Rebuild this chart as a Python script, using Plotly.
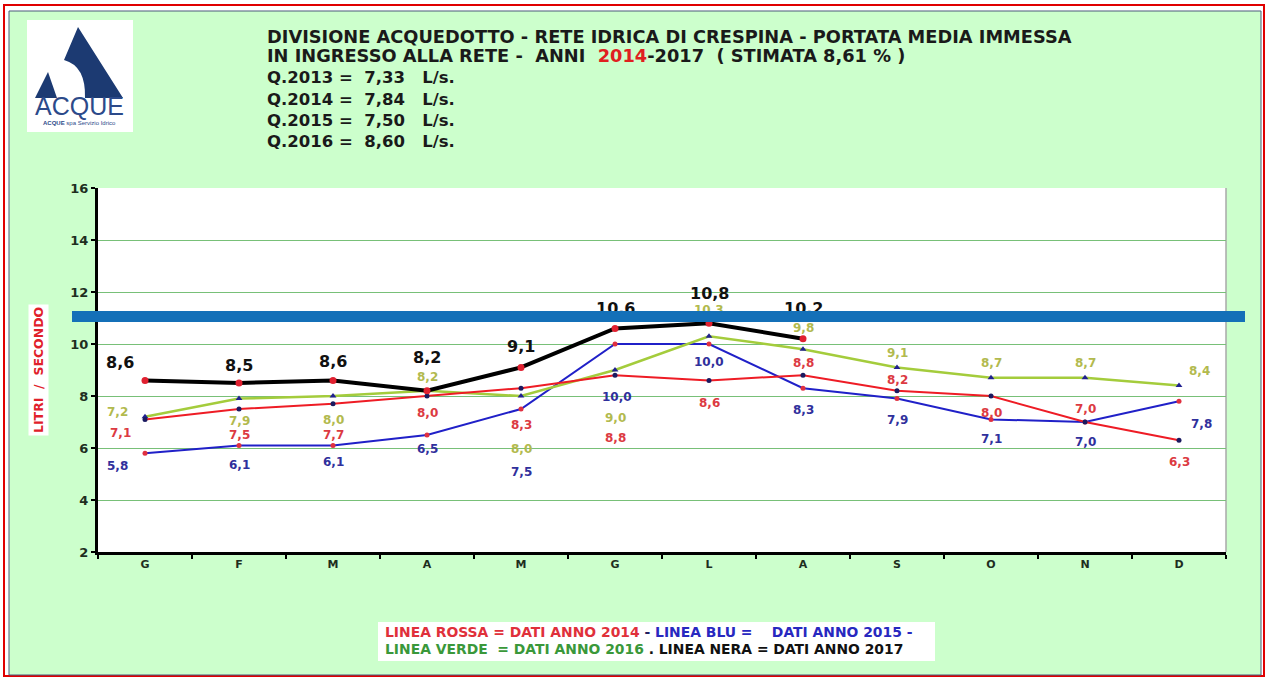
import plotly.graph_objects as go

# ---------------- data ----------------
months = ["G", "F", "M", "A", "M", "G", "L", "A", "S", "O", "N", "D"]
y2014 = [7.1, 7.5, 7.7, 8.0, 8.3, 8.8, 8.6, 8.8, 8.2, 8.0, 7.0, 6.3]
y2015 = [5.8, 6.1, 6.1, 6.5, 7.5, 10.0, 10.0, 8.3, 7.9, 7.1, 7.0, 7.8]
y2016 = [7.2, 7.9, 8.0, 8.2, 8.0, 9.0, 10.3, 9.8, 9.1, 8.7, 8.7, 8.4]
y2017 = [8.6, 8.5, 8.6, 8.2, 9.1, 10.6, 10.8, 10.2]
q_years = ["Q.2013", "Q.2014", "Q.2015", "Q.2016"]
q_values = ["7,33", "7,84", "7,50", "8,60"]
stimata = "8,61 %"
y_tick_vals = [2, 4, 6, 8, 10, 12, 14, 16]
bar_level = 11.05  # blue horizontal band drawn on the chart

# ---------------- styles ----------------
W, H = 1270, 677
L, R, T, B = 98, 44, 188, 125
PW, PH = W - L - R, H - T - B
FONT = "DejaVu Sans"
NB = "\u00a0"


def px(xp):
    return (xp - L) / PW


def py(yp):
    return (H - B - yp) / PH


# label offsets (xshift, yshift) in pixels
off2014 = [(-25, -14), (0, -26), (0, -31), (0, -17), (0, -37), (0, -63),
           (0, -23), (0, 12), (0, 11), (0, -17), (0, 13), (0, -22)]
off2015 = [(-28, -13), (0, -20), (0, -17), (0, -14), (0, -63), (2, -53),
           (0, -18), (0, -22), (0, -21), (0, -20), (0, -20), (22, -23)]
off2016 = [(-28, 5), (0, -22), (0, -24), (0, 14), (0, -53), (0, -48),
           (0, 26), (0, 21), (0, 14), (0, 15), (0, 15), (20, 15)]
off2017 = [(-25, 18), (0, 18), (0, 19), (0, 33), (0, 21), (0, 20),
           (0, 30), (0, 30)]

xs = list(range(len(months)))

fig = go.Figure()

fig.add_trace(go.Scatter(x=xs, y=y2015, mode="lines+markers",
                         line=dict(color="#2020C8", width=2),
                         marker=dict(color="#E03040", size=5), name="2015"))
fig.add_trace(go.Scatter(x=xs, y=y2016, mode="lines+markers",
                         line=dict(color="#A4CC3C", width=2.5),
                         marker=dict(color="#202090", size=6, symbol="triangle-up"), name="2016"))
fig.add_trace(go.Scatter(x=xs, y=y2014, mode="lines+markers",
                         line=dict(color="#EE1C25", width=2),
                         marker=dict(color="#1A1A60", size=5), name="2014"))
fig.add_trace(go.Scatter(x=xs[:len(y2017)], y=y2017, mode="lines+markers",
                         line=dict(color="#000000", width=4),
                         marker=dict(color="#E02030", size=7), name="2017"))

annotations = []


def fmt(v):
    return f"{v:.1f}".replace(".", ",")


def add_labels(vals, offs, color, size):
    for i, (v, (dx, dy)) in enumerate(zip(vals, offs)):
        annotations.append(dict(x=xs[i], y=v, xref="x", yref="y", text=fmt(v),
                                showarrow=False, xshift=dx, yshift=dy,
                                xanchor="center", yanchor="middle",
                                font=dict(family=FONT, size=size, color=color, weight="bold")))


add_labels(y2014, off2014, "#DC3A42", 12)
add_labels(y2015, off2015, "#30309C", 12)
add_labels(y2016, off2016, "#B2BA4E", 12)
add_labels(y2017, off2017, "#111111", 16)

# title block
TF = dict(family=FONT, size=17.8, color="#1A1A1A", weight="bold")
QF = dict(family=FONT, size=16.5, color="#1A1A1A", weight="bold")
title1 = "DIVISIONE ACQUEDOTTO - RETE IDRICA DI CRESPINA - PORTATA MEDIA IMMESSA"
title2 = ("IN INGRESSO ALLA RETE -" + NB * 2 + "ANNI" + NB * 2 +
          "<span style='color:#E02020'>2014</span>-2017" + NB * 2 + "( STIMATA " + stimata + " )")
annotations.append(dict(x=px(265), y=py(37), xref="paper", yref="paper", text=title1,
                        showarrow=False, xanchor="left", yanchor="middle", font=TF))
annotations.append(dict(x=px(265), y=py(55), xref="paper", yref="paper", text=title2,
                        showarrow=False, xanchor="left", yanchor="middle", font=TF))
q_y = [78, 99, 120, 141]
for lab, val, yy in zip(q_years, q_values, q_y):
    txt = lab + " =" + NB * 2 + val + NB * 3 + "L/s."
    annotations.append(dict(x=px(265), y=py(yy), xref="paper", yref="paper", text=txt,
                            showarrow=False, xanchor="left", yanchor="middle", font=QF))

# y axis title
annotations.append(dict(x=px(38), y=py(370), xref="paper", yref="paper",
                        text="LITRI" + NB * 2 + "/" + NB * 2 + "SECONDO", textangle=-90,
                        showarrow=False, bgcolor="#FFFFFF", borderpad=2,
                        xanchor="center", yanchor="middle",
                        font=dict(family=FONT, size=12.5, color="#E0202A", weight="bold")))

# bottom legend text
leg1 = ("<span style='color:#E0303A'>LINEA ROSSA = DATI ANNO 2014</span>"
        "<span style='color:#202060'> - </span>"
        "<span style='color:#2828C0'>LINEA BLU =" + NB * 4 + "DATI ANNO 2015 -</span>")
leg2 = ("<span style='color:#3A983A'>LINEA VERDE" + NB * 2 + "= DATI ANNO 2016</span>"
        "<span style='color:#111111'> . LINEA NERA = DATI ANNO 2017</span>")
LF = dict(family=FONT, size=13.9, weight="bold")
annotations.append(dict(x=px(383), y=py(632), xref="paper", yref="paper", text=leg1,
                        showarrow=False, xanchor="left", yanchor="middle", font=LF))
annotations.append(dict(x=px(383), y=py(649), xref="paper", yref="paper", text=leg2,
                        showarrow=False, xanchor="left", yanchor="middle", font=LF))

# logo text
annotations.append(dict(x=px(79), y=py(106), xref="paper", yref="paper", text="ACQUE",
                        showarrow=False, xanchor="center", yanchor="middle",
                        font=dict(family="Liberation Sans", size=25, color="#2C4A8A")))
annotations.append(dict(x=px(79), y=py(123), xref="paper", yref="paper",
                        text="<b>ACQUE</b> spa Servizio Idrico",
                        showarrow=False, xanchor="center", yanchor="middle",
                        font=dict(family="Liberation Sans", size=6, color="#2C4A8A")))

# blue band (added last so it sits on top of the labels)
annotations.append(dict(x=px((72 + 1245) / 2), y=bar_level, xref="paper", yref="y", text=" ",
                        showarrow=False, xanchor="center", yanchor="middle",
                        width=1173, height=11, borderpad=0, borderwidth=0,
                        bgcolor="#1470B8", font=dict(size=1)))


def path(points):
    return "M " + " L ".join(f"{px(a)},{py(b)}" for a, b in points) + " Z"


shapes = [
    dict(type="rect", xref="paper", yref="paper", x0=px(4), x1=px(1264), y0=py(5), y1=py(676),
         line=dict(color="#E00000", width=2), fillcolor="#FFFFFF", layer="below"),
    dict(type="rect", xref="paper", yref="paper", x0=px(9), x1=px(1261), y0=py(11), y1=py(675),
         line=dict(color="#4A5A7A", width=1), fillcolor="#CCFFCC", layer="below"),
    dict(type="rect", xref="paper", yref="paper", x0=0, x1=1, y0=0, y1=1,
         line=dict(width=0), fillcolor="#FFFFFF", layer="below"),
    dict(type="line", xref="paper", yref="paper", x0=1, x1=1, y0=0, y1=1,
         line=dict(color="#A8A8A8", width=1.5), layer="below"),
    # logo
    dict(type="rect", xref="paper", yref="paper", x0=px(27), x1=px(133), y0=py(20), y1=py(132),
         line=dict(width=0), fillcolor="#FFFFFF", layer="below"),
    dict(type="path", xref="paper", yref="paper",
         path=(f"M {px(78)},{py(27)} L {px(123)},{py(98)} L {px(85)},{py(98)} "
               f"Q {px(86)},{py(66)} {px(64)},{py(60)} Z"),
         line=dict(width=0), fillcolor="#1C3A72", layer="above"),
    dict(type="path", xref="paper", yref="paper",
         path=path([(48, 72), (57, 98), (35, 98)]),
         line=dict(width=0), fillcolor="#1C3A72", layer="above"),
    # legend box
    dict(type="rect", xref="paper", yref="paper", x0=px(378), x1=px(935), y0=py(622), y1=py(661),
         line=dict(width=0), fillcolor="#FFFFFF", layer="below"),
]

fig.update_layout(
    width=W, height=H,
    margin=dict(l=L, r=R, t=T, b=B, pad=0),
    paper_bgcolor="#FFFFFF", plot_bgcolor="#FFFFFF",
    showlegend=False,
    annotations=annotations, shapes=shapes,
    xaxis=dict(range=[-0.5, len(months) - 0.5], tickvals=xs, ticktext=months,
               showgrid=False, zeroline=False, showline=True, linecolor="#000000", linewidth=3,
               ticks="", tickfont=dict(family=FONT, size=11, color="#1E2E1E", weight="bold"),
               minor=dict(tickvals=[i - 0.5 for i in range(len(months) + 1)], ticks="outside",
                          ticklen=4, tickwidth=2, tickcolor="#000000", showgrid=False),
               fixedrange=True),
    yaxis=dict(range=[2, 16], tickvals=y_tick_vals, showgrid=True, gridcolor="#78C078",
               gridwidth=1, zeroline=False, showline=True, linecolor="#000000", linewidth=3,
               ticks="outside", ticklen=4, tickwidth=2, tickcolor="#000000",
               tickfont=dict(family=FONT, size=13, color="#1E2E1E", weight="bold"),
               fixedrange=True),
)

fig.write_html("out.html", config={"displayModeBar": False},
               post_script="document.body.style.margin='0';document.body.style.overflow='hidden';")
